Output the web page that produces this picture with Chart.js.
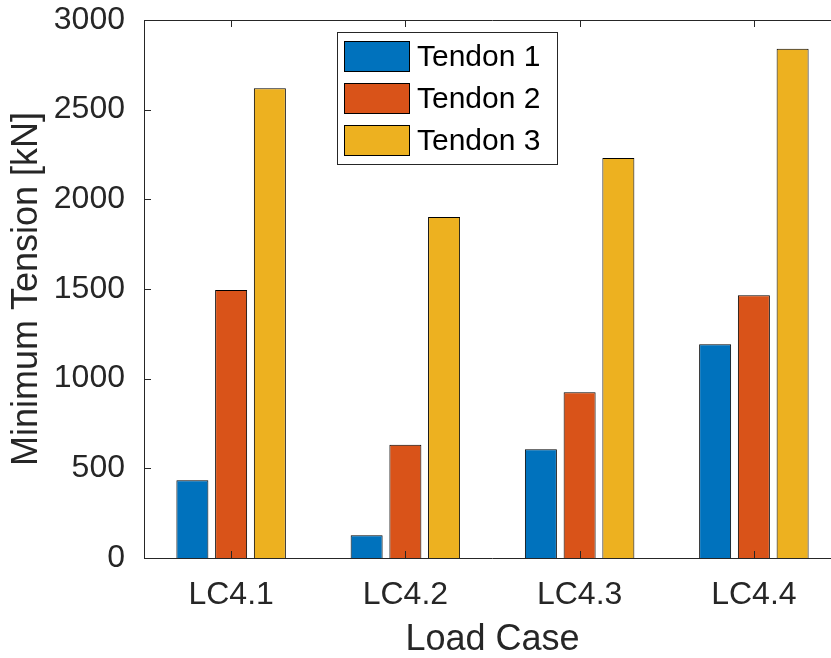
<!DOCTYPE html>
<html>
<head>
<meta charset="utf-8">
<title>Minimum Tension per Load Case</title>
<script src="https://cdn.jsdelivr.net/npm/chart.js@4.4.1/dist/chart.umd.min.js"></script>
<style>
    html, body { margin: 0; padding: 0; background: #fff; overflow: hidden; }
    #wrap { width: 831px; height: 658px; overflow: hidden; }
    canvas { display: block; }
</style>
</head>
<body>
<div id="wrap">
    <canvas id="tensionChart" width="843" height="658" style="width:843px;height:658px"></canvas>
</div>
<script>
(function () {
    const loadCases = ['LC4.1', 'LC4.2', 'LC4.3', 'LC4.4'];
    const seriesNames = ['Tendon 1', 'Tendon 2', 'Tendon 3'];
    const tendon1 = [433, 127, 606, 1192];
    const tendon2 = [1494, 632, 924, 1465];
    const tendon3 = [2620, 1901, 2230, 2840];
    const yMin = 0;
    const yMax = 3000;
    const yStep = 500;

    const colors = ['#0072BD', '#D95319', '#EDB120'];
    const axisColor = '#262626';
    const fontFamily = '"Liberation Sans", Arial, Helvetica, sans-serif';

    // axis box lines and inward tick marks, painted over the bars
    const axesOnTop = {
        id: 'axesOnTop',
        afterDatasetsDraw(chart) {
            const { ctx, chartArea } = chart;
            const x = chart.scales.x;
            const y = chart.scales.y;
            const tickLen = 7;
            ctx.save();
            ctx.strokeStyle = axisColor;
            ctx.lineWidth = 1;
            ctx.beginPath();
            ctx.moveTo(chartArea.left + 0.5, chartArea.top);
            ctx.lineTo(chartArea.left + 0.5, chartArea.bottom + 1);
            ctx.moveTo(chartArea.left, chartArea.bottom + 0.5);
            ctx.lineTo(chartArea.right, chartArea.bottom + 0.5);
            ctx.moveTo(chartArea.left, chartArea.top + 0.5);
            ctx.lineTo(chartArea.right, chartArea.top + 0.5);
            y.ticks.forEach(t => {
                const py = Math.round(y.getPixelForValue(t.value)) + 0.5;
                ctx.moveTo(chartArea.left, py);
                ctx.lineTo(chartArea.left + tickLen, py);
            });
            x.ticks.forEach((t, i) => {
                const px = Math.round(x.getPixelForTick(i)) + 0.5;
                ctx.moveTo(px, chartArea.bottom);
                ctx.lineTo(px, chartArea.bottom - tickLen);
                ctx.moveTo(px, chartArea.top);
                ctx.lineTo(px, chartArea.top + tickLen);
            });
            ctx.stroke();
            ctx.restore();
        }
    };

    // boxed legend inside the axes
    const boxLegend = {
        id: 'boxLegend',
        afterDraw(chart) {
            const { ctx } = chart;
            const boxX = 337.5, boxY = 32.5, boxW = 220, boxH = 132;
            const swX = 344, swW = 66, swH = 31;
            const rowTop = [41, 83, 125];
            ctx.save();
            ctx.fillStyle = '#fff';
            ctx.fillRect(boxX, boxY, boxW, boxH);
            ctx.strokeStyle = axisColor;
            ctx.lineWidth = 1;
            ctx.strokeRect(boxX, boxY, boxW, boxH);
            ctx.font = '30px ' + fontFamily;
            ctx.textBaseline = 'middle';
            ctx.textAlign = 'left';
            chart.data.datasets.forEach((ds, i) => {
                ctx.fillStyle = ds.backgroundColor;
                ctx.fillRect(swX, rowTop[i], swW, swH);
                ctx.strokeStyle = '#000';
                ctx.strokeRect(swX + 0.5, rowTop[i] + 0.5, swW - 1, swH - 1);
                ctx.fillStyle = '#000';
                ctx.fillText(ds.label, 417, rowTop[i] + swH / 2 + 1);
            });
            ctx.restore();
        }
    };

    const seriesValues = [tendon1, tendon2, tendon3];

    new Chart(document.getElementById('tensionChart'), {
        type: 'bar',
        data: {
            labels: loadCases,
            datasets: seriesNames.map((name, i) => ({
                label: name,
                data: seriesValues[i],
                backgroundColor: colors[i],
                borderColor: '#000',
                borderWidth: 1,
                categoryPercentage: 0.667,
                barPercentage: 0.826
            }))
        },
        options: {
            responsive: false,
            devicePixelRatio: 1,
            animation: false,
            layout: { padding: { top: 0, right: 2, bottom: 0, left: 0 } },
            plugins: {
                legend: { display: false },
                tooltip: { enabled: false }
            },
            scales: {
                x: {
                    type: 'category',
                    offset: true,
                    // hidden tick marks only reserve the gap below the axis
                    grid: { display: false, drawTicks: true, tickLength: 17 },
                    border: { display: false },
                    ticks: {
                        color: axisColor,
                        padding: 0,
                        maxRotation: 0,
                        font: { family: fontFamily, size: 32, lineHeight: 1.25 }
                    },
                    title: {
                        display: true,
                        text: 'Load Case',
                        color: axisColor,
                        padding: { top: 0, bottom: 0 },
                        font: { family: fontFamily, size: 36, lineHeight: 1 }
                    },
                    afterFit(scale) { scale.height = 100; }
                },
                y: {
                    min: yMin,
                    max: yMax,
                    grid: { display: false, drawTicks: true, tickLength: 19 },
                    border: { display: false },
                    ticks: {
                        stepSize: yStep,
                        color: axisColor,
                        padding: 0,
                        font: { family: fontFamily, size: 32, lineHeight: 1.25 },
                        callback: value => String(value)
                    },
                    title: {
                        display: true,
                        text: 'Minimum Tension [kN]',
                        color: axisColor,
                        padding: { top: 9, bottom: 0 },
                        font: { family: fontFamily, size: 36, lineHeight: 1 }
                    },
                    afterFit(scale) { scale.width = 144; }
                }
            }
        },
        plugins: [axesOnTop, boxLegend]
    });
})();
</script>
</body>
</html>
